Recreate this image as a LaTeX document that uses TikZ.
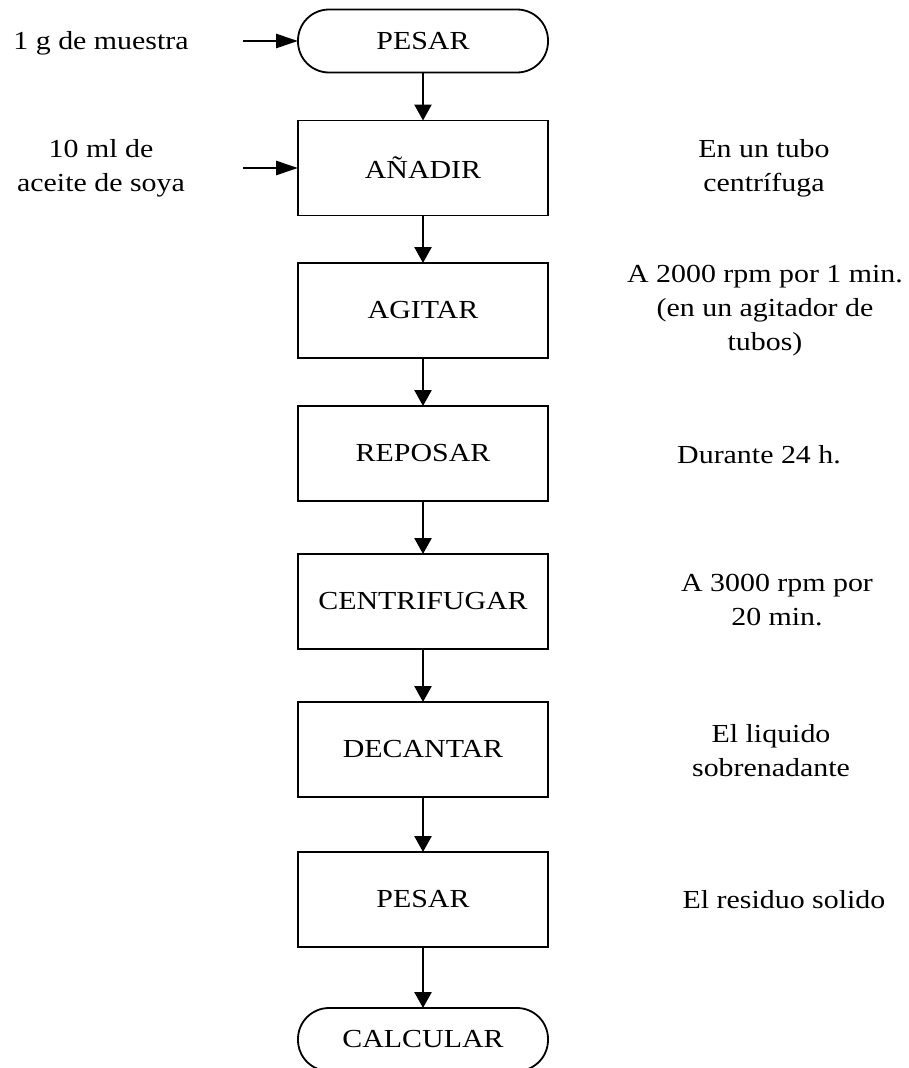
\documentclass[tikz,border=0pt]{standalone}
\usepackage{fontspec}
\setmainfont{Liberation Serif}[FakeStretch=1.15]
\usetikzlibrary{arrows.meta}
\begin{document}
\begin{tikzpicture}[x=1pt,y=-1pt,
  every node/.style={font=\fontsize{26}{34}\selectfont, inner sep=0pt, outer sep=0pt},
  procbox/.style={draw=black, line width=1.8pt, minimum width=250pt, minimum height=95pt},
  termbox/.style={draw=black, line width=1.8pt, rounded corners=31pt, minimum width=250pt, minimum height=63pt},
  note/.style={align=center},
  arr/.style={line width=2.6pt, -{Triangle[width=17pt,length=16pt]}},
  inarr/.style={line width=2.6pt, -{Triangle[width=14pt,length=22pt]}}
]
\useasboundingbox (0,0) rectangle (908,1068);
\node[termbox] (pesar1) at (423,41) {PESAR};
\node[procbox] (anadir) at (423,168) {AÑADIR};
\node[procbox] (agitar) at (423,310.5) {AGITAR};
\node[procbox] (reposar) at (423,453.5) {REPOSAR};
\node[procbox] (centrif) at (423,601.5) {CENTRIFUGAR};
\node[procbox] (decantar) at (423,749.5) {DECANTAR};
\node[procbox] (pesar2) at (423,899.5) {PESAR};
\node[termbox] (calcular) at (423,1039.5) {CALCULAR};

\node[note] (muestra) at (101,43) {1 g de muestra};
\node[note] (aceite) at (101,168) {10 ml de\\aceite de soya};
\coordinate (in1) at (243,41);
\coordinate (in2) at (243,168);

\node[note] (n1) at (764,168) {En un tubo\\centrífuga};
\node[note] (n2) at (765,311) {A 2000 rpm por 1 min.\\(en un agitador de\\tubos)};
\node[note] (n3) at (759,455) {Durante 24 h.};
\node[note] (n4) at (777,600) {A 3000 rpm por\\20 min.};
\node[note] (n5) at (771,751) {El liquido\\sobrenadante};
\node[note] (n6) at (784,900) {El residuo solido};

\draw[inarr] (in1) -- (pesar1.west);
\draw[inarr] (in2) -- (anadir.west);
\draw[arr] (pesar1) -- (anadir);
\draw[arr] (anadir) -- (agitar);
\draw[arr] (agitar) -- (reposar);
\draw[arr] (reposar) -- (centrif);
\draw[arr] (centrif) -- (decantar);
\draw[arr] (decantar) -- (pesar2);
\draw[arr] (pesar2) -- (calcular);
\end{tikzpicture}
\end{document}
